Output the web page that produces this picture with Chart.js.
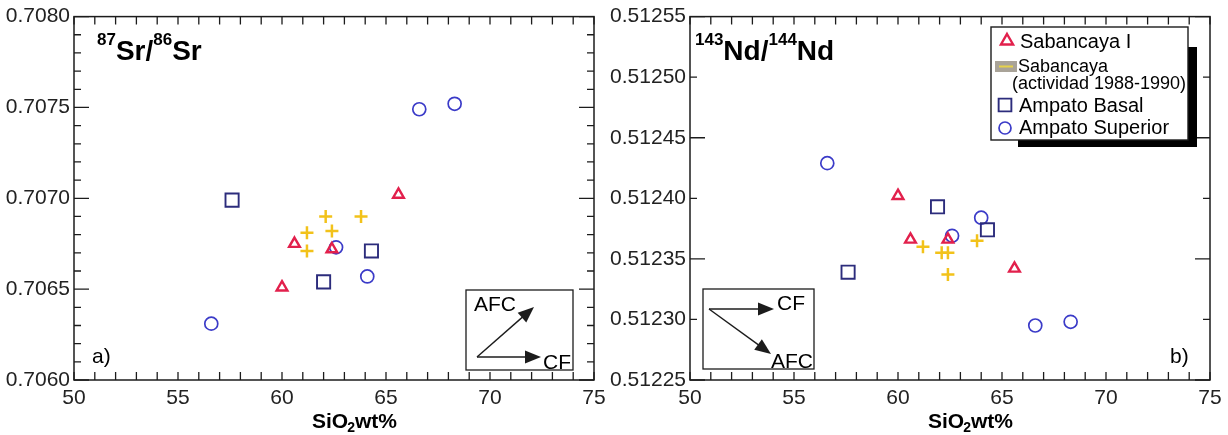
<!DOCTYPE html>
<html><head><meta charset="utf-8">
<script src="https://cdn.jsdelivr.net/npm/chart.js@4/dist/chart.umd.min.js"></script>
<style>
html,body{margin:0;padding:0;background:#fff;}
body{width:1228px;height:435px;overflow:hidden;position:relative;}
canvas{position:absolute;top:0;}
#ca{left:0;} #cb{left:600px;}
</style></head>
<body>
<canvas id="ca" width="614" height="435"></canvas>
<canvas id="cb" width="628" height="435"></canvas>
<script>
// ---------- DATA ----------
const sio2Min = 50, sio2Max = 75;
const xTicks = [50, 55, 60, 65, 70, 75];
const srTicks = [0.7060, 0.7065, 0.7070, 0.7075, 0.7080];
const ndTicks = [0.51225, 0.51230, 0.51235, 0.51240, 0.51245, 0.51250, 0.51255];

const seriesNames = ['Sabancaya I', 'Sabancaya (actividad 1988-1990)', 'Ampato Basal', 'Ampato Superior'];

// Panel a) 87Sr/86Sr
const srSabI_SiO2 = [65.6, 60.6, 62.4, 60.0];
const srSabI_Sr   = [0.70702, 0.70675, 0.70672, 0.70651];
const srSab90_SiO2 = [62.1, 62.4, 61.2, 61.2, 63.8];
const srSab90_Sr   = [0.70690, 0.70682, 0.70681, 0.70671, 0.70690];
const srBasal_SiO2 = [57.6, 64.3, 62.0];
const srBasal_Sr   = [0.70699, 0.70671, 0.70654];
const srSup_SiO2 = [56.6, 66.6, 68.3, 62.6, 64.1];
const srSup_Sr   = [0.70631, 0.70749, 0.70752, 0.70673, 0.70657];

// Panel b) 143Nd/144Nd
const ndSabI_SiO2 = [60.0, 60.6, 62.4, 65.6];
const ndSabI_Nd   = [0.512402, 0.512366, 0.512366, 0.512342];
const ndSab90_SiO2 = [61.2, 62.1, 62.4, 62.4, 63.8];
const ndSab90_Nd   = [0.512360, 0.512355, 0.512355, 0.512337, 0.512365];
const ndBasal_SiO2 = [61.9, 64.3, 57.6];
const ndBasal_Nd   = [0.512393, 0.512374, 0.512339];
const ndSup_SiO2 = [56.6, 66.6, 68.3, 64.0, 62.6];
const ndSup_Nd   = [0.512429, 0.512295, 0.512298, 0.512384, 0.512369];

// ---------- STYLE ----------
const FONT = '"Liberation Sans", Arial, Helvetica, sans-serif';
const INK = '#1c1c1c';
const C_TRI = '#e2204c', C_SQ = '#2c2c7c', C_CIR = '#3b3bc8', C_CROSS = '#f2c21a';
const pts = (xs, ys) => xs.map((x, i) => ({x: x, y: ys[i]}));

function makeDatasets(sabI, sab90, basal, sup) {
  return [
    {label: seriesNames[1], data: sab90, pointStyle: 'cross', pointRadius: 6.5, borderColor: C_CROSS, backgroundColor: C_CROSS, pointBorderWidth: 2.5},
    {label: seriesNames[0], data: sabI, pointStyle: 'triangle', pointRadius: 6.2, borderColor: C_TRI, backgroundColor: 'rgba(0,0,0,0)', pointBorderWidth: 2.4},
    {label: seriesNames[2], data: basal, pointStyle: 'rect', pointRadius: 9.3, borderColor: C_SQ, backgroundColor: 'rgba(0,0,0,0)', pointBorderWidth: 1.9},
    {label: seriesNames[3], data: sup, pointStyle: 'circle', pointRadius: 6.5, borderColor: C_CIR, backgroundColor: 'rgba(0,0,0,0)', pointBorderWidth: 1.7}
  ];
}

function arrow(ctx, x0, y0, x1, y1) {
  const head = 16, hw = 6.5;
  const a = Math.atan2(y1 - y0, x1 - x0), c = Math.cos(a), s = Math.sin(a);
  ctx.beginPath(); ctx.moveTo(x0, y0); ctx.lineTo(x1 - c * head * 0.7, y1 - s * head * 0.7); ctx.stroke();
  ctx.beginPath(); ctx.moveTo(x1, y1);
  ctx.lineTo(x1 - c * head - s * hw, y1 - s * head + c * hw);
  ctx.lineTo(x1 - c * head + s * hw, y1 - s * head - c * hw);
  ctx.closePath(); ctx.fill();
}

function drawIso(ctx, x, base, parts) {
  for (const [t, sup] of parts) {
    ctx.font = sup ? 'bold 17px ' + FONT : 'bold 28px ' + FONT;
    ctx.fillText(t, x, sup ? base - 15 : base);
    x += ctx.measureText(t).width;
  }
}

function decoPlugin(cfg) {
  return {
    id: 'deco',
    afterDatasetsDraw(chart) {
      const ctx = chart.ctx, a = chart.chartArea, xs = chart.scales.x, ys = chart.scales.y;
      ctx.save();
      ctx.strokeStyle = INK; ctx.fillStyle = INK; ctx.lineWidth = 1.5;
      ctx.strokeRect(a.left, a.top, a.right - a.left, a.bottom - a.top);
      ctx.lineWidth = 1.3;
      ctx.beginPath();
      for (let v = sio2Min; v <= sio2Max + 1e-9; v += 1) {
        const p = xs.getPixelForValue(v);
        ctx.moveTo(p, a.bottom); ctx.lineTo(p, a.bottom - 8);
        ctx.moveTo(p, a.top); ctx.lineTo(p, a.top + 8);
      }
      const n = Math.round((ys.max - ys.min) / cfg.minor);
      for (let i = 0; i <= n; i++) {
        const v = ys.min + i * cfg.minor;
        const p = ys.getPixelForValue(v);
        const L = (i % cfg.majorEvery) === 0 ? 15 : 7;
        ctx.moveTo(a.left, p); ctx.lineTo(a.left + L, p);
        ctx.moveTo(a.right, p); ctx.lineTo(a.right - L, p);
      }
      ctx.stroke();
      ctx.fillStyle = '#000'; ctx.textBaseline = 'alphabetic'; ctx.textAlign = 'left';
      drawIso(ctx, cfg.titleX, 60, cfg.title);
      ctx.font = '21px ' + FONT;
      ctx.fillText(cfg.letter, cfg.letterX, 363);
      let tx = a.left + 238;
      ctx.font = 'bold 21px ' + FONT; ctx.fillText('SiO', tx, 428); tx += ctx.measureText('SiO').width - 1;
      ctx.font = 'bold 14px ' + FONT; ctx.fillText('2', tx, 432); tx += ctx.measureText('2').width;
      ctx.font = 'bold 21px ' + FONT; ctx.fillText('wt%', tx, 428);
      const b = cfg.inset;
      ctx.fillStyle = '#fff'; ctx.fillRect(b.box[0], b.box[1], b.box[2] - b.box[0], b.box[3] - b.box[1]);
      ctx.strokeStyle = INK; ctx.fillStyle = INK; ctx.lineWidth = 1.3;
      ctx.strokeRect(b.box[0], b.box[1], b.box[2] - b.box[0], b.box[3] - b.box[1]);
      ctx.lineWidth = 1.4;
      arrow(ctx, b.o[0], b.o[1], b.cf[0], b.cf[1]);
      arrow(ctx, b.o[0], b.o[1], b.afc[0], b.afc[1]);
      ctx.fillStyle = '#000'; ctx.font = '21px ' + FONT;
      ctx.fillText('CF', b.cfT[0], b.cfT[1]);
      ctx.fillText('AFC', b.afcT[0], b.afcT[1]);
      if (cfg.legend) {
        const L = cfg.legend, H = Chart.helpers;
        ctx.fillStyle = '#000';
        ctx.fillRect(L.box[0] + 27, L.box[1] + 20, L.box[2] - L.box[0] - 18, L.box[3] - L.box[1] - 13);
        ctx.fillStyle = '#fff';
        ctx.fillRect(L.box[0], L.box[1], L.box[2] - L.box[0], L.box[3] - L.box[1]);
        ctx.strokeStyle = INK; ctx.lineWidth = 1.4;
        ctx.strokeRect(L.box[0], L.box[1], L.box[2] - L.box[0], L.box[3] - L.box[1]);
        const ds = chart.data.datasets;
        const mk = (d, r, x, y) => {
          ctx.strokeStyle = d.borderColor; ctx.fillStyle = 'rgba(0,0,0,0)'; ctx.lineWidth = d.pointBorderWidth;
          H.drawPoint(ctx, {pointStyle: d.pointStyle, radius: r, borderWidth: d.pointBorderWidth, rotation: 0}, x, y);
        };
        const x0 = L.box[0];
        mk(ds[1], 7, x0 + 16, 41);
        mk(ds[2], 9, x0 + 14, 105);
        mk(ds[3], 6, x0 + 14, 128);
        ctx.fillStyle = '#a9a398'; ctx.fillRect(x0 + 4, 61, 22, 11);
        ctx.strokeStyle = '#e6d24a'; ctx.lineWidth = 2; ctx.beginPath(); ctx.moveTo(x0 + 8, 66.5); ctx.lineTo(x0 + 22, 66.5); ctx.stroke();
        ctx.fillStyle = '#000'; ctx.textBaseline = 'middle';
        ctx.font = '20px ' + FONT;
        ctx.fillText(seriesNames[0], x0 + 29, 42);
        ctx.fillText(seriesNames[2], x0 + 28, 106);
        ctx.fillText(seriesNames[3], x0 + 28, 128);
        ctx.font = '18px ' + FONT;
        ctx.fillText('Sabancaya', x0 + 27, 67);
        ctx.fillText('(actividad 1988-1990)', x0 + 21, 84);
      }
      ctx.restore();
    }
  };
}

function makeChart(id, yTicks, yMin, yMax, digits, padRight, yWidth, datasets, cfg) {
  return new Chart(document.getElementById(id), {
    type: 'scatter',
    data: {datasets: datasets},
    options: {
      responsive: false, animation: false, events: [],
      layout: {padding: {top: 16, right: padRight, left: 0, bottom: 0}},
      plugins: {legend: {display: false}, tooltip: {enabled: false}},
      scales: {
        x: {
          type: 'linear', min: sio2Min, max: sio2Max,
          afterBuildTicks: s => { s.ticks = xTicks.map(v => ({value: v})); },
          afterFit: s => { s.height = 55; },
          ticks: {font: {family: FONT, size: 21}, color: '#222', padding: 6, callback: v => String(v), maxRotation: 0},
          grid: {display: false, drawTicks: false}, border: {display: false}
        },
        y: {
          type: 'linear', min: yMin, max: yMax,
          afterBuildTicks: s => { s.ticks = yTicks.map(v => ({value: v})); },
          afterFit: s => { s.width = yWidth; },
          ticks: {font: {family: FONT, size: 21}, color: '#222', padding: 4, callback: v => Number(v).toFixed(digits)},
          grid: {display: false, drawTicks: false}, border: {display: false}
        }
      }
    },
    plugins: [decoPlugin(cfg)]
  });
}

makeChart('ca', srTicks, 0.7060, 0.7080, 4, 20, 74,
  makeDatasets(pts(srSabI_SiO2, srSabI_Sr), pts(srSab90_SiO2, srSab90_Sr), pts(srBasal_SiO2, srBasal_Sr), pts(srSup_SiO2, srSup_Sr)),
  {minor: 0.0001, majorEvery: 5, title: [['87', 1], ['Sr/', 0], ['86', 1], ['Sr', 0]], titleX: 97, letter: 'a)', letterX: 92,
   inset: {box: [466, 290, 573, 370], o: [477, 357], cf: [541, 357], afc: [534, 307], cfT: [543, 369], afcT: [474, 311]}});

makeChart('cb', ndTicks, 0.51225, 0.51255, 5, 18, 90,
  makeDatasets(pts(ndSabI_SiO2, ndSabI_Nd), pts(ndSab90_SiO2, ndSab90_Nd), pts(ndBasal_SiO2, ndBasal_Nd), pts(ndSup_SiO2, ndSup_Nd)),
  {minor: 0.00005, majorEvery: 2, title: [['143', 1], ['Nd/', 0], ['144', 1], ['Nd', 0]], titleX: 95, letter: 'b)', letterX: 570,
   inset: {box: [103, 289, 214, 369], o: [109, 309], cf: [174, 309], afc: [171, 354], cfT: [177, 310], afcT: [171, 368]},
   legend: {box: [391, 27, 588, 140]}});
</script>
</body></html>
